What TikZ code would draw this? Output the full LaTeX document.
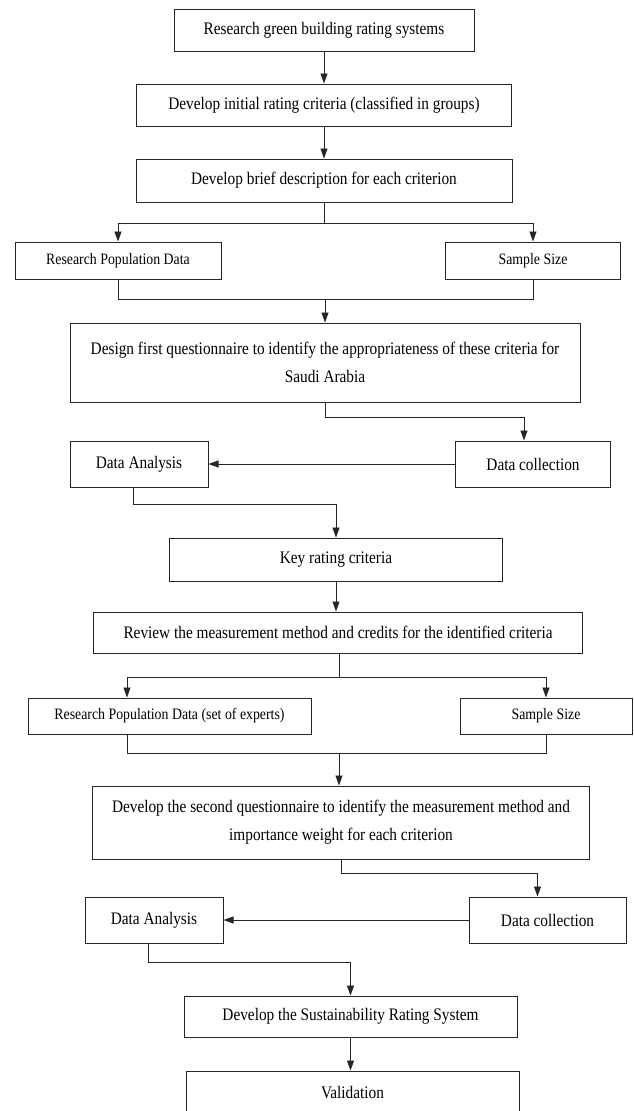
\documentclass[tikz,border=0pt]{standalone}
\usepackage{fontspec}
\setmainfont{Liberation Serif}[FakeStretch=0.87]
\usepackage{tikz}
\usetikzlibrary{arrows.meta}
\tikzstyle{arrow} = [line width=0.9pt, draw=black!85, -{Triangle[length=10pt, width=7pt]}]
\tikzstyle{line} = [line width=0.9pt, draw=black!85]

\begin{document}
\begin{tikzpicture}[x=1pt, y=-1pt,
stepbox/.style={rectangle, draw=black!85, line width=1pt, inner sep=0pt, align=center, font=\fontsize{17.6}{28}\selectfont},
smallbox/.style={stepbox, font=\fontsize{15.9}{24}\selectfont},]
\clip (0,0) rectangle (633,1111);
\node[stepbox, minimum width=300, minimum height=42] (research) at (324,30) {Research green building rating systems};
\node[stepbox, minimum width=375, minimum height=42] (criteria) at (324,105) {Develop initial rating criteria (classified in groups)};
\node[stepbox, minimum width=376, minimum height=43] (brief) at (324,180.5) {Develop brief description for each criterion};
\coordinate (split1) at (324,223);
\node[smallbox, minimum width=206, minimum height=37] (popdata1) at (118,260.5) {Research Population Data};
\node[smallbox, minimum width=175, minimum height=37] (sample1) at (533,260.5) {Sample Size};
\coordinate (merge1) at (325,299);
\node[stepbox, minimum width=510, minimum height=79] (quest1) at (325,362.5) {Design first questionnaire to identify the appropriateness of these criteria for\\Saudi Arabia};
\coordinate (turn1) at (325,417);
\node[stepbox, minimum width=155, minimum height=46] (collect1) at (533,464) {Data collection};
\node[stepbox, minimum width=138, minimum height=46] (analysis1) at (139,464) {Data Analysis};
\coordinate (turn2) at (133,504);
\node[stepbox, minimum width=333, minimum height=43] (keycrit) at (336,559.5) {Key rating criteria};
\node[stepbox, minimum width=489, minimum height=41] (review) at (338,632.5) {Review the measurement method and credits for the identified criteria};
\coordinate (split2) at (339,677);
\node[smallbox, minimum width=283, minimum height=36] (popdata2) at (169.5,716) {Research Population Data (set of experts)};
\node[smallbox, minimum width=172, minimum height=36] (sample2) at (546,716) {Sample Size};
\coordinate (merge2) at (339,753);
\node[stepbox, minimum width=497, minimum height=73] (quest2) at (341,822.5) {Develop the second questionnaire to identify the measurement method and\\importance weight for each criterion};
\coordinate (turn3) at (341,873);
\node[stepbox, minimum width=157, minimum height=46] (collect2) at (547.5,920) {Data collection};
\node[stepbox, minimum width=138, minimum height=46] (analysis2) at (154,920) {Data Analysis};
\coordinate (turn4) at (148,962);
\node[stepbox, minimum width=333, minimum height=41] (system) at (350.5,1016.5) {Develop the Sustainability Rating System};
\node[stepbox, minimum width=333, minimum height=44] (valid) at (352.5,1093) {Validation};
\draw[arrow] (research) -- (criteria);
\draw[arrow] (criteria) -- (brief);
\draw[line] (brief) -- (split1);
\draw[arrow] (split1) -| (popdata1);
\draw[arrow] (split1) -| (sample1);
\draw[line] (popdata1) |- (merge1);
\draw[line] (sample1) |- (merge1);
\draw[arrow] (merge1) -- (quest1);
\draw[arrow] (quest1) -- (turn1) -| ([xshift=-9pt]collect1.north);
\draw[arrow] (collect1) -- (analysis1);
\draw[arrow] ([xshift=-6pt]analysis1.south) -- (turn2) -| (keycrit);
\draw[arrow] (keycrit) -- (keycrit |- review.north);
\draw[line] (review.south -| split2) -- (split2);
\draw[arrow] (split2) -| ([xshift=-42.5pt]popdata2.north);
\draw[arrow] (split2) -| (sample2);
\draw[line] ([xshift=-42.5pt]popdata2.south) |- (merge2);
\draw[line] (sample2) |- (merge2);
\draw[arrow] (merge2) -- (merge2 |- quest2.north);
\draw[arrow] (quest2) -- (turn3) -| ([xshift=-10pt]collect2.north);
\draw[arrow] (collect2) -- (analysis2);
\draw[arrow] ([xshift=-6pt]analysis2.south) -- (turn4) -| (system);
\draw[arrow] (system) -- (system |- valid.north);
\end{tikzpicture}
\end{document}
